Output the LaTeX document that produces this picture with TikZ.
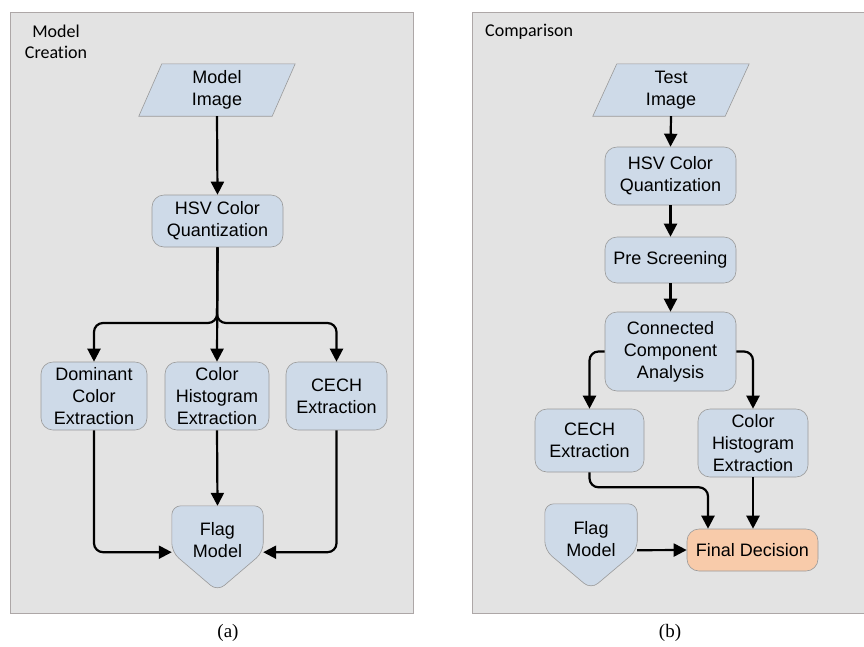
\documentclass[tikz,border=0pt]{standalone}
\usepackage{fontspec}
\newfontfamily\boxfont{Liberation Sans}
\newfontfamily\labelfont[Ligatures=NoCommon]{Carlito}
\newfontfamily\capfont{Liberation Serif}
\usetikzlibrary{arrows.meta,calc,backgrounds}
\definecolor{panelfill}{HTML}{E3E3E3}
\definecolor{panelline}{HTML}{ADA7A7}
\definecolor{boxfill}{HTML}{CEDAE8}
\definecolor{boxline}{HTML}{9A9A9A}
\definecolor{finalfill}{HTML}{F8CBAA}
\begin{document}
\begin{tikzpicture}[x=1pt,y=-1pt,
  panel/.style={fill=panelfill,draw=panelline,line width=0.8pt},
  boxtext/.style={align=center,inner sep=0pt,font=\boxfont\fontsize{18}{22}\selectfont},
  stepbox/.style={boxtext,draw=boxline,fill=boxfill,line width=0.6pt,rounded corners=12pt},
  shapeline/.style={draw=boxline,fill=boxfill,line width=0.6pt},
  flow/.style={line width=2.2pt,-{Triangle[length=13pt,width=13pt]},rounded corners=9pt},
  paneltitle/.style={inner sep=0pt,font=\labelfont\fontsize{18}{21}\selectfont},
]
\useasboundingbox (0,0) rectangle (864,646);

% ---------- (a) model creation ----------
\node[boxtext,minimum width=133pt,minimum height=52pt] (imgA) at (217,90) {Model\\Image};
\node[stepbox,minimum width=131pt,minimum height=52pt] (hsvA) at (217.5,221) {HSV Color\\Quantization};
\node[stepbox,minimum width=106pt,minimum height=68pt] (domA) at (94,396) {Dominant\\Color\\Extraction};
\node[stepbox,minimum width=104pt,minimum height=68pt] (chA) at (217,396) {Color\\Histogram\\Extraction};
\node[stepbox,minimum width=101pt,minimum height=68pt] (cechA) at (336.5,396) {CECH\\Extraction};
\node[inner sep=0pt,minimum width=91pt,minimum height=46pt] (flagA) at (217.5,529) {};
\node[boxtext] (flagAtext) at (217.5,540) {Flag\\Model};
\coordinate (forkA) at (217,323);

% ---------- (b) comparison ----------
\node[boxtext,minimum width=132pt,minimum height=52pt] (imgB) at (671,90) {Test\\Image};
\node[stepbox,minimum width=131pt,minimum height=58pt] (hsvB) at (670.5,176) {HSV Color\\Quantization};
\node[stepbox,minimum width=131pt,minimum height=46pt] (preB) at (670.5,260) {Pre Screening};
\node[stepbox,minimum width=131pt,minimum height=79pt] (ccaB) at (670.5,351.5) {Connected\\Component\\Analysis};
\node[stepbox,minimum width=109pt,minimum height=63pt] (cechB) at (589.5,440.5) {CECH\\Extraction};
\node[stepbox,minimum width=110pt,minimum height=68pt] (chB) at (753,443) {Color\\Histogram\\Extraction};
\node[inner sep=0pt,minimum width=92pt,minimum height=46pt] (flagB) at (591,527) {};
\node[boxtext] (flagBtext) at (591,539) {Flag\\Model};
\node[stepbox,fill=finalfill,minimum width=131pt,minimum height=42pt] (finalB) at (752.5,550) {Final Decision};

% ---------- panels and outlined shapes ----------
\begin{pgfonlayer}{background}
  \path[panel] (10,12) rectangle (413,613);
  \path[panel] (472,12) rectangle (866,613);
  \path[shapeline] ($(imgA.north west)+(11.5,0)$) -- ($(imgA.north east)+(11.5,0)$)
     -- ($(imgA.south east)+(-11.5,0)$) -- ($(imgA.south west)+(-11.5,0)$) -- cycle;
  \path[shapeline] ($(imgB.north west)+(12,0)$) -- ($(imgB.north east)+(12,0)$)
     -- ($(imgB.south east)+(-12,0)$) -- ($(imgB.south west)+(-12,0)$) -- cycle;
  \path[shapeline,rounded corners=9pt] (flagA.north west) -- (flagA.north east)
     -- (flagA.south east) -- ($(flagA.south)+(0,39)$) -- (flagA.south west) -- cycle;
  \path[shapeline,rounded corners=9pt] (flagB.north west) -- (flagB.north east)
     -- (flagB.south east) -- ($(flagB.south)+(0,39)$) -- (flagB.south west) -- cycle;
\end{pgfonlayer}

% ---------- connectors (a) ----------
\draw[flow] (imgA.south) -- (hsvA.north);
\draw[flow] (hsvA.south) -- (chA.north);
\draw[flow] (hsvA.south) -- (forkA) -| (domA.north);
\draw[flow] (hsvA.south) -- (forkA) -| (cechA.north);
\draw[flow] (chA.south) -- (flagA.north);
\draw[flow] (domA.south) |- (flagA.south west);
\draw[flow] (cechA.south) |- (flagA.south east);

% ---------- connectors (b) ----------
\draw[flow] (imgB.south) -- (hsvB.north);
\draw[flow] (hsvB.south) -- (preB.north);
\draw[flow] (preB.south) -- (ccaB.north);
\draw[flow] (ccaB.west) -| (cechB.north);
\draw[flow] (ccaB.east) -| (chB.north);
\draw[flow] (cechB.south) -- ++(0,15) -| ([xshift=-44.5pt]finalB.north);
\draw[flow] (chB.south) -- (chB.south |- finalB.north);
\draw[flow] (flagB.south east) -- (finalB.west);

% ---------- labels ----------
\node[paneltitle,align=center] (lblA) at (56,42) {Model\\Creation};
\node[paneltitle,anchor=west] (lblB) at (485,32) {Comparison};
\node[inner sep=0pt,font=\capfont\fontsize{19}{22}\selectfont] (capA) at (228,633) {(a)};
\node[inner sep=0pt,font=\capfont\fontsize{19}{22}\selectfont] (capB) at (670,633) {(b)};
\end{tikzpicture}
\end{document}
